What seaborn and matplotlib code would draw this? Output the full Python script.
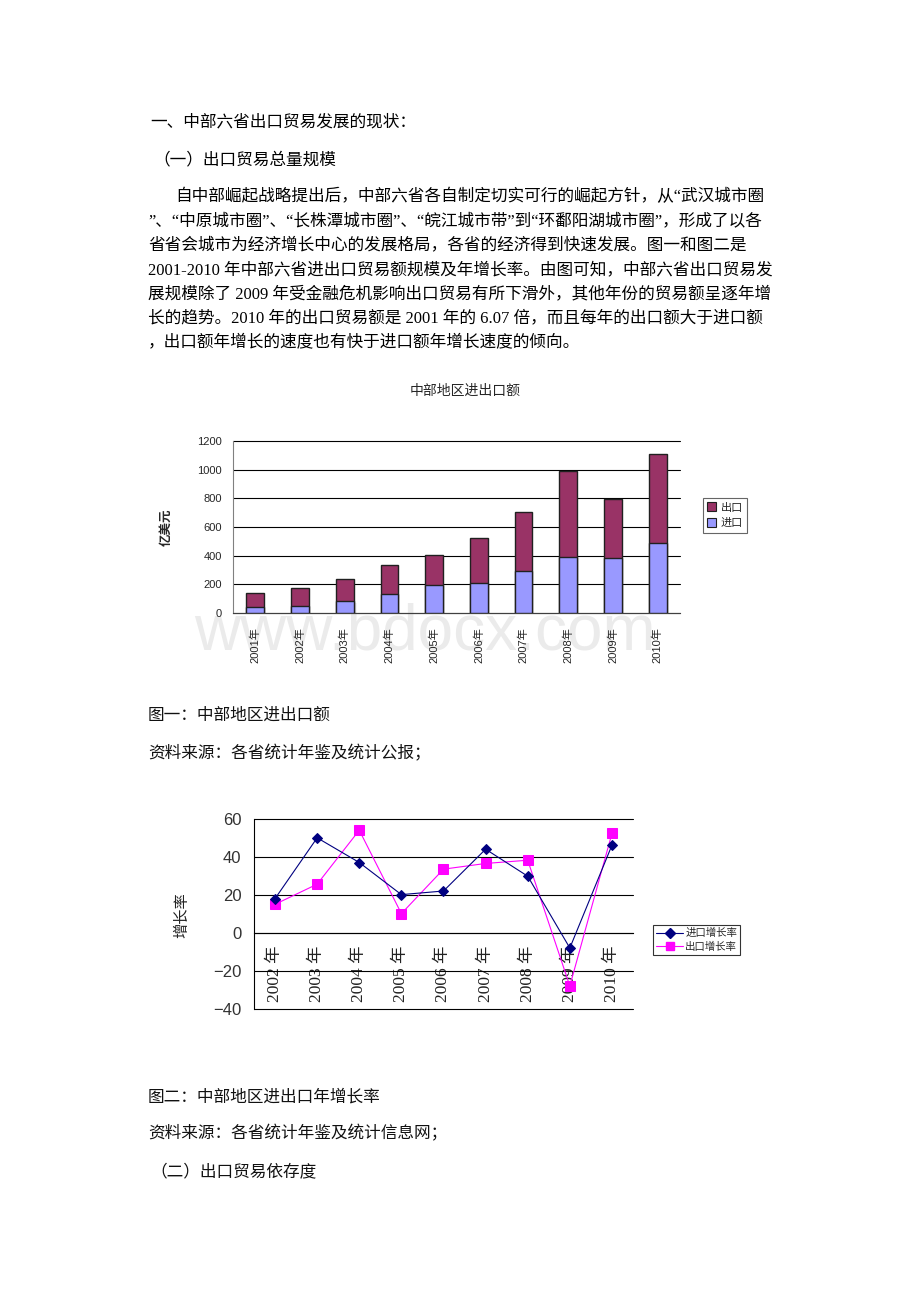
import numpy as np
import pandas as pd
import matplotlib
matplotlib.use('Agg')
import matplotlib.pyplot as plt
import seaborn as sns
from matplotlib.patches import Patch
from matplotlib.lines import Line2D

# ---------------- data ----------------
years1 = ['2001年', '2002年', '2003年', '2004年', '2005年',
          '2006年', '2007年', '2008年', '2009年', '2010年']
imports = [39, 46, 84, 130, 193, 209, 290, 394, 387, 487]
exports = [100, 128, 153, 204, 211, 313, 418, 597, 409, 622]

years2 = ['2002 年', '2003 年', '2004 年', '2005 年', '2006 年',
          '2007 年', '2008 年', '2009 年', '2010 年']
import_growth = [18.1, 50.1, 37.1, 20.2, 22.1, 44.1, 29.9, -7.9, 46.2]
export_growth = [15.1, 25.7, 54.1, 10.2, 33.6, 36.6, 38.3, -27.9, 52.4]

ticks1 = [0, 200, 400, 600, 800, 1000, 1200]
ticks2 = [-40, -20, 0, 20, 40, 60]

title1 = '中部地区进出口额'
ylabel1 = '亿美元'
ylabel2 = '增长率'
legend1 = ['出口', '进口']
legend2 = ['进口增长率', '出口增长率']

body_lines = [
    '一、中部六省出口贸易发展的现状：',
    '（一）出口贸易总量规模',
    '自中部崛起战略提出后，中部六省各自制定切实可行的崛起方针，从“武汉城市圈',
    '”、“中原城市圈”、“长株潭城市圈”、“皖江城市带”到“环鄱阳湖城市圈”，形成了以各',
    '省省会城市为经济增长中心的发展格局，各省的经济得到快速发展。图一和图二是',
    '2001-2010 年中部六省进出口贸易额规模及年增长率。由图可知，中部六省出口贸易发',
    '展规模除了 2009 年受金融危机影响出口贸易有所下滑外，其他年份的贸易额呈逐年增',
    '长的趋势。2010 年的出口贸易额是 2001 年的 6.07 倍，而且每年的出口额大于进口额',
    '，出口额年增长的速度也有快于进口额年增长速度的倾向。',
]
captions = [
    '图一：中部地区进出口额',
    '资料来源：各省统计年鉴及统计公报；',
    '图二：中部地区进出口年增长率',
    '资料来源：各省统计年鉴及统计信息网；',
    '（二）出口贸易依存度',
]

# ---------------- style ----------------
sns.set_style('white')
CJK = ['Noto Sans CJK SC', 'DejaVu Sans']
SERIF = ['Liberation Serif', 'Noto Sans CJK SC']
SANS = ['Liberation Sans', 'Noto Sans CJK SC']
plt.rcParams['font.family'] = CJK
plt.rcParams['axes.unicode_minus'] = True

W, H = 920, 1302
fig = plt.figure(figsize=(W / 100, H / 100), dpi=100)
fig.patch.set_facecolor('white')


def fx(px):
    return px / W


def fy(py):
    return 1 - py / H


# ---------------- page text ----------------
body_pos = [(150, 122), (153, 160), (175, 197), (148, 221), (148, 245),
            (148, 270), (148, 294), (148, 318), (148, 342)]
for (x, y), s in zip(body_pos, body_lines):
    fig.text(fx(x), fy(y), s, fontsize=12, family=SERIF, va='center', ha='left', color='black')

cap_pos = [(148, 715), (148, 754), (148, 1097), (148, 1134), (150, 1172)]
for (x, y), s in zip(cap_pos, captions):
    fig.text(fx(x), fy(y), s, fontsize=12, family=CJK, va='center', ha='left', color='#111111')

# watermark
fig.text(fx(425), fy(632), 'www.bdocx.com', fontsize=46, family=['Liberation Sans'],
         color='#ebebeb', ha='center', va='center', zorder=-1)

# ---------------- chart 1 ----------------
ax1 = fig.add_axes([fx(233), fy(613), (680 - 233) / W, (613 - 441) / H])
ax1.set_facecolor('none')
df1 = pd.DataFrame({'year': years1, 'imp': imports, 'exp': exports})
df1['total'] = df1['imp'] + df1['exp']
sns.barplot(data=df1, x='year', y='total', color='#993366', saturation=1,
            edgecolor='#202020', linewidth=1.0, width=0.4, ax=ax1, zorder=3)
sns.barplot(data=df1, x='year', y='imp', color='#9999FF', saturation=1,
            edgecolor='#202020', linewidth=1.0, width=0.4, ax=ax1, zorder=3)
ax1.set_xlim(-0.5, len(years1) - 0.5)
ax1.set_ylim(0, 1200)
ax1.set_yticks(ticks1)
ax1.set_yticklabels([str(t) for t in ticks1], fontsize=8, family=SANS)
ax1.set_xticks(range(len(years1)))
ax1.set_xticklabels(years1, rotation=90, fontsize=8, family=SANS)
ax1.set_xticks(np.arange(0.5, len(years1), 1.0), minor=True)
ax1.tick_params(axis='x', which='major', length=0, pad=10)
ax1.tick_params(axis='x', which='minor', length=4, width=0.8, direction='out', color='#404040')
ax1.tick_params(axis='y', length=0, pad=8)
ax1.set_xlabel('')
ax1.set_ylabel('')
ax1.yaxis.grid(True, color='#000000', linewidth=0.8, zorder=0)
ax1.set_axisbelow(True)
for s in ['top', 'right']:
    ax1.spines[s].set_visible(False)
ax1.spines['left'].set_color('#808080')
ax1.spines['bottom'].set_color('#404040')
for gl in ax1.get_ygridlines():
    gl.set_clip_on(False)

fig.text(fx(465), fy(391), title1, fontsize=10, family=CJK, ha='center', va='center')
fig.text(fx(166), fy(527), ylabel1, fontsize=9, family=CJK, fontweight='bold',
         rotation=90, ha='center', va='center')

handles1 = [Patch(facecolor='#993366', edgecolor='#202020', linewidth=0.8),
            Patch(facecolor='#9999FF', edgecolor='#202020', linewidth=0.8)]
leg1 = ax1.legend(handles1, legend1, loc='upper left',
                  bbox_to_anchor=(fx(703), fy(498)), bbox_transform=fig.transFigure,
                  fontsize=8, frameon=True, fancybox=False, handlelength=0.8,
                  handleheight=0.8, handletextpad=0.4, borderpad=0.4, labelspacing=0.5,
                  borderaxespad=0)
leg1.get_frame().set_edgecolor('#404040')
leg1.get_frame().set_linewidth(0.8)

# ---------------- chart 2 ----------------
ax2 = fig.add_axes([fx(254), fy(1009), (633 - 254) / W, (1009 - 819) / H])
df2 = pd.DataFrame({'year': years2, 'imp': import_growth, 'exp': export_growth})
sns.lineplot(data=df2, x='year', y='imp', color='#000080', marker='D', markersize=5,
             markeredgecolor='#000080', linewidth=0.8, ax=ax2, sort=False, zorder=4)
sns.lineplot(data=df2, x='year', y='exp', color='#FF00FF', marker='s', markersize=7,
             markeredgecolor='#FF00FF', linewidth=0.8, ax=ax2, sort=False, zorder=3)
ax2.spines['bottom'].set_position(('data', 0))
ax2.set_xlim(-0.5, len(years2) - 0.5)
ax2.set_ylim(-40, 60)
ax2.set_yticks(ticks2)
ax2.set_yticklabels([f'{t}'.replace('-', '\u2212') for t in ticks2], fontsize=12,
                    family=SANS, color='#333333')
ax2.set_xticks(range(len(years2)))
ax2.set_xticklabels(years2, rotation=90, fontsize=12.5, family=SERIF, color='#222222')
ax2.set_xticks(np.arange(0.5, len(years2), 1.0), minor=True)
ax2.tick_params(axis='x', which='major', length=0, pad=9)
ax2.tick_params(axis='x', which='minor', length=6, width=0.8, direction='in', color='black')
ax2.tick_params(axis='y', length=0, pad=9)
ax2.set_xlabel('')
ax2.set_ylabel('')
ax2.yaxis.grid(True, color='black', linewidth=0.8, zorder=0)
ax2.set_axisbelow(True)
for s in ['top', 'right']:
    ax2.spines[s].set_visible(False)
ax2.spines['left'].set_color('black')
ax2.spines['bottom'].set_color('black')
ax2.spines['left'].set_linewidth(0.8)
ax2.spines['bottom'].set_linewidth(0.8)
for gl in ax2.get_ygridlines():
    gl.set_clip_on(False)

fig.text(fx(182), fy(915), ylabel2, fontsize=11, family=CJK, rotation=90,
         ha='center', va='center', color='#222222')

handles2 = [Line2D([], [], color='#000080', marker='D', markersize=5, linewidth=0.8),
            Line2D([], [], color='#FF00FF', marker='s', markersize=6, linewidth=0.8)]
leg2 = ax2.legend(handles2, legend2, loc='upper left',
                  bbox_to_anchor=(fx(653), fy(925)), bbox_transform=fig.transFigure,
                  fontsize=7.5, frameon=True, fancybox=False, handlelength=2.6,
                  handletextpad=0.2, borderpad=0.3, labelspacing=0.3, borderaxespad=0)
leg2.get_frame().set_edgecolor('black')
leg2.get_frame().set_linewidth(0.8)

fig.savefig('out.png', dpi=100, facecolor='white')
